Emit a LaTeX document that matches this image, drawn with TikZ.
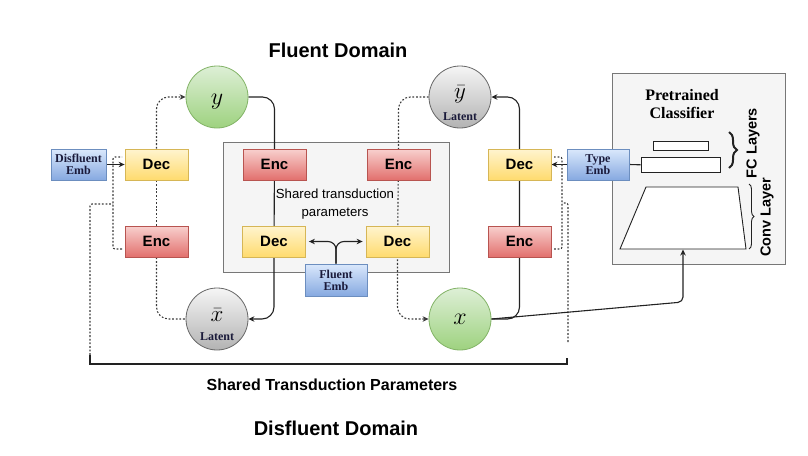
\RequirePackage{fix-cm}
\documentclass[tikz,border=0pt]{standalone}
\usepackage{fontspec}
\setmainfont{Liberation Serif}
\setsansfont{Liberation Sans}
\usetikzlibrary{arrows.meta,decorations.pathreplacing,calc}
\pgfdeclarelayer{bg}
\pgfdeclarelayer{lines}
\pgfsetlayers{bg,lines,main}
\definecolor{grnT}{HTML}{DDEFD6}
\definecolor{grnD}{HTML}{9ED27F}
\definecolor{grnB}{HTML}{82B366}
\definecolor{gryT}{HTML}{F5F5F5}
\definecolor{gryD}{HTML}{B3B3B3}
\definecolor{gryB}{HTML}{666666}
\definecolor{decT}{HTML}{FFF4CF}
\definecolor{decD}{HTML}{FFDB6E}
\definecolor{decB}{HTML}{D6B656}
\definecolor{encT}{HTML}{F8D0CE}
\definecolor{encD}{HTML}{E2706D}
\definecolor{encB}{HTML}{B85450}
\definecolor{embT}{HTML}{DAE8FC}
\definecolor{embD}{HTML}{86A9E0}
\definecolor{embB}{HTML}{6C8EBF}
\definecolor{embTxt}{HTML}{1A1A3A}
\definecolor{panelF}{HTML}{F5F5F5}
\definecolor{panelB}{HTML}{777777}
\definecolor{lineC}{HTML}{222222}
\definecolor{dotC}{HTML}{3A3A3A}
\begin{document}
\begin{tikzpicture}[x=1pt,y=-1pt,
  box/.style={rectangle, inner sep=0pt, minimum width=63pt, minimum height=31pt, line width=0.8pt},
  encbox/.style={box, draw=encB, top color=encT, bottom color=encD, font=\sffamily\bfseries\fontsize{15}{18}\selectfont},
  decbox/.style={box, draw=decB, top color=decT, bottom color=decD, font=\sffamily\bfseries\fontsize{15}{18}\selectfont},
  embbox/.style={box, draw=embB, top color=embT, bottom color=embD, align=center, text=embTxt,
    font=\rmfamily\bfseries\fontsize{12}{14}\selectfont},
  gcirc/.style={circle, minimum size=62pt, inner sep=0pt, line width=0.8pt, draw=grnB, top color=grnT, bottom color=grnD},
  lcirc/.style={circle, minimum size=62pt, inner sep=0pt, line width=0.8pt, draw=gryB, top color=gryT, bottom color=gryD},
  panel/.style={rectangle, inner sep=0pt, draw=panelB, fill=panelF, line width=0.8pt},
  sym/.style={inner sep=0pt, font=\fontsize{24}{26}\selectfont},
  smallsym/.style={inner sep=0pt, font=\fontsize{23}{25}\selectfont},
  lat/.style={inner sep=0pt, text=embTxt, font=\rmfamily\bfseries\fontsize{12}{14}\selectfont},
  title/.style={font=\sffamily\bfseries\fontsize{20}{24}\selectfont},
  sline/.style={draw=lineC, line width=1.1pt},
  sarr/.style={sline, -{Stealth[length=6pt,width=5.5pt]}},
  dline/.style={draw=dotC, line width=1.1pt, dash pattern=on 1.8pt off 1.8pt},
  darr/.style={dline, -{Stealth[length=6pt,width=5.5pt]}},
  whitebox/.style={draw=lineC, fill=white, line width=0.9pt}
]
\useasboundingbox (0,0) rectangle (808,455);

% titles
\node[title] (tf) at (338,50) {Fluent Domain};
\node[title] (td) at (336,428) {Disfluent Domain};
\node[font=\sffamily\bfseries\fontsize{16}{19}\selectfont] (tsp) at (332,385) {Shared Transduction Parameters};

% panels
\begin{pgfonlayer}{bg}
\node[panel, minimum width=226pt, minimum height=130pt] (shared) at (336,207) {};
\node[panel, minimum width=173pt, minimum height=191pt] (clsbox) at (698.5,168.5) {};
\end{pgfonlayer}
\node[align=center, inner sep=0pt, font=\sffamily\fontsize{13.2}{18}\selectfont] (sharedtxt) at (335,204) {Shared transduction\\parameters};

% circles
\node[gcirc] (y) at (217,97) {};
\node[sym] (ysym) at (217,102) {$y$};
\node[lcirc] (xbar) at (217,319) {};
\node[smallsym] (xbarsym) at (217,315) {$\bar{x}$};
\node[lat] (xbarlat) at (217,337) {Latent};
\node[lcirc] (ybar) at (460,97) {};
\node[smallsym] (ybarsym) at (460,94) {$\bar{y}$};
\node[lat] (ybarlat) at (460,117) {Latent};
\node[gcirc] (x) at (460,319) {};
\node[sym] (xsym) at (460,319) {$x$};

% boxes
\node[decbox] (dec1) at (156.5,164.5) {Dec};
\node[encbox] (enc1) at (156.5,241.5) {Enc};
\node[encbox] (enc3) at (274.5,164.5) {Enc};
\node[encbox] (enc4) at (398.5,164.5) {Enc};
\node[decbox] (dec3) at (274,241.5) {Dec};
\node[decbox] (dec4) at (397.5,241.5) {Dec};
\node[decbox] (dec2) at (519.5,164.5) {Dec};
\node[encbox] (enc2) at (519.5,241.5) {Enc};
\node[embbox, minimum width=55pt] (demb) at (78.5,164.5) {Disfluent\\[-2pt]Emb};
\node[embbox, minimum width=62pt] (temb) at (598,164.5) {Type\\[-2pt]Emb};
\node[embbox, minimum width=62pt, minimum height=32pt] (femb) at (336,280) {Fluent\\[-2pt]Emb};

% classifier
\node[align=center, inner sep=0pt, font=\rmfamily\bfseries\fontsize{16}{18}\selectfont] (pcls) at (682,104) {Pretrained\\Classifier};
\node[whitebox, rectangle, inner sep=0pt, minimum width=55pt, minimum height=8.5pt] (fcs) at (680.5,146) {};
\node[whitebox, rectangle, inner sep=0pt, minimum width=79pt, minimum height=15pt] (fcl) at (680.5,164.8) {};
\coordinate (tpA) at (646,187);
\coordinate (tpB) at (738,187);
\coordinate (tpC) at (746,249);
\coordinate (tpD) at (620,249);
\coordinate (trapbot) at (683,249.5);
\draw[whitebox] (tpA) -- (tpB) -- (tpC) -- (tpD) -- cycle;
\draw[lineC, line width=2pt, decorate, decoration={brace, amplitude=8pt}] (729,132) -- (729,168);
\draw[lineC, line width=0.9pt, decorate, decoration={brace, amplitude=5pt}] (749,184) -- (749,249);
\node[rotate=90, inner sep=0pt, font=\sffamily\bfseries\fontsize{14.5}{16}\selectfont] (fclab) at (753,143) {FC Layers};
\node[rotate=90, inner sep=0pt, font=\sffamily\bfseries\fontsize{14.5}{16}\selectfont] (convlab) at (767,217) {Conv Layer};

% free-end coordinates
\coordinate (hl1) at (122,249);
\coordinate (hl2) at (122,157);
\coordinate (hl3) at (113,204);
\coordinate (sl0) at (90,355);
\coordinate (hr1) at (554,249);
\coordinate (hr2) at (554,157);
\coordinate (hr3) at (562,203);
\coordinate (sr0) at (568,342);
\coordinate (br1) at (90,364);
\coordinate (br2) at (567,364);
\coordinate (br3) at (567,358);
\coordinate (xcorner) at (683,302);

\begin{pgfonlayer}{lines}
% left column
\draw[sarr] (demb) -- (dec1);
\draw[darr, rounded corners=12pt] (dec1.north) |- (y.west);
\draw[dline] (enc1.north) -- (dec1.south);
\draw[dline, rounded corners=12pt] (enc1.south) |- (xbar.west);
\draw[dline, rounded corners=2pt] (hl1) -- (113,249) -- (113,157) -- (hl2);
\draw[dline, rounded corners=2pt] (sl0) -- (90,204) -- (hl3);
% shared column left (solid)
\draw[sarr, rounded corners=12pt] (y.east) -| (enc3.north) -- (dec3.south) |- (xbar.east);
% shared column right (dotted)
\draw[darr, rounded corners=12pt] (ybar.west) -| (enc4.north) -- (dec4.south) |- (x.west);
% right column
\draw[sarr, rounded corners=12pt] (x.east) -| (enc2.south) -- (dec2.north) |- (ybar.east);
\draw[sarr] (temb) -- (dec2);
\draw[sline] (temb.east) -- (fcl.west);
\draw[dline, rounded corners=2pt] (hr1) -- (562,249) -- (562,157) -- (hr2);
\draw[dline, rounded corners=2pt] (sr0) -- (568,203) -- (hr3);
% bracket
\draw[lineC, line width=1.1pt] (sl0) -- (br1) -- (br2) -- (br3);
% fluent emb fork
\draw[sarr, rounded corners=8pt, shorten >=3pt] (femb.north) |- (dec3.east);
\draw[sarr, rounded corners=8pt, shorten >=3pt] (femb.north) |- (dec4.west);
% x to classifier
\draw[sarr, rounded corners=5pt] (x.east) -- (xcorner) -- (trapbot);
\end{pgfonlayer}
\end{tikzpicture}
\end{document}
